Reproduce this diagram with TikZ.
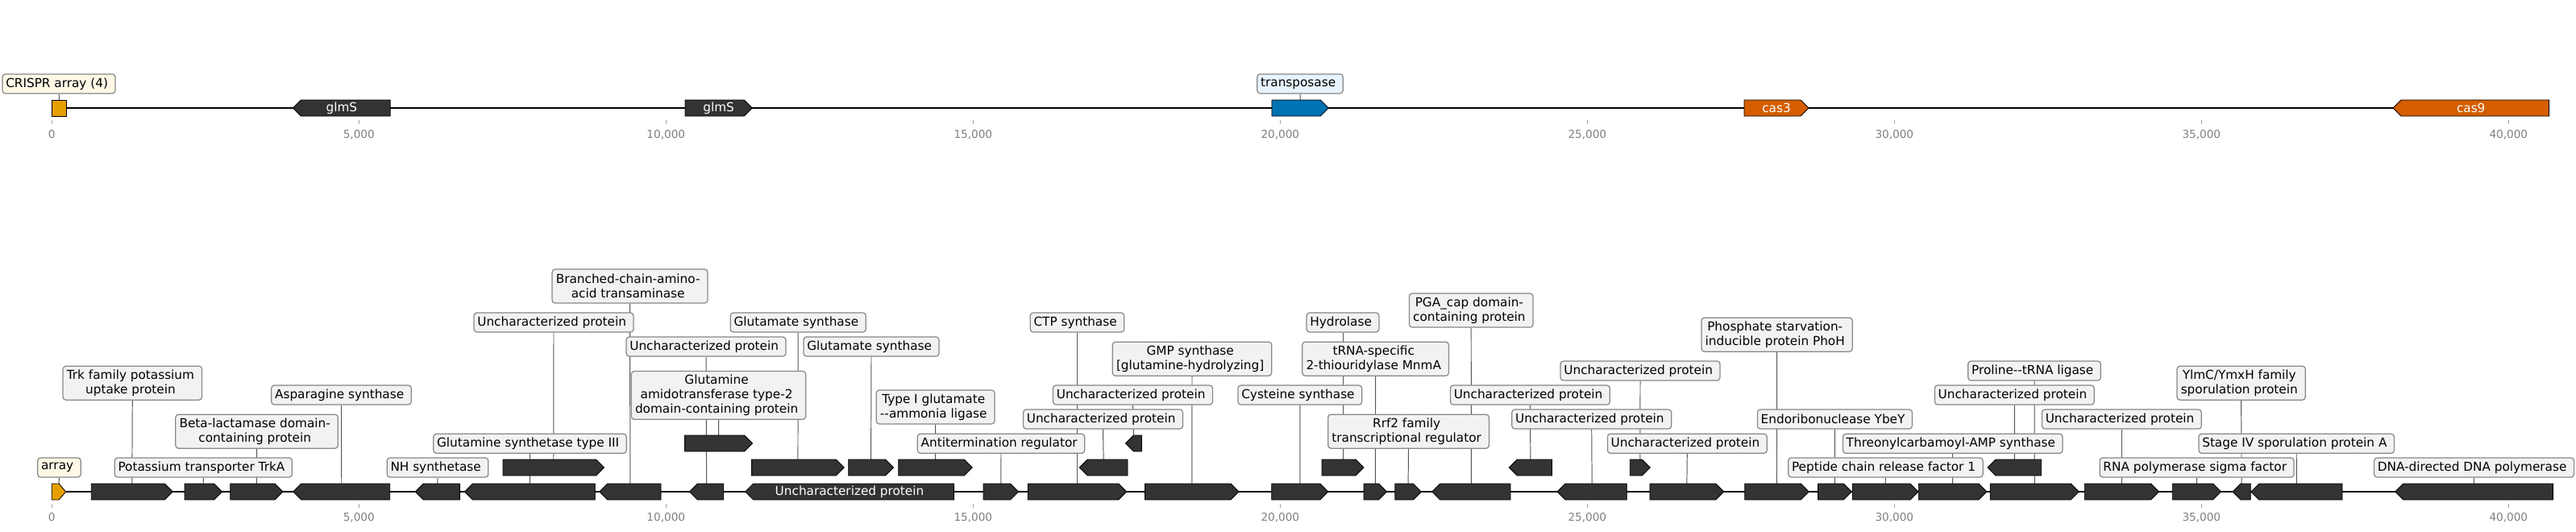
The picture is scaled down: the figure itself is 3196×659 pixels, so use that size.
\documentclass[tikz,border=0pt]{standalone}
\usepackage{fontspec}
\setmainfont{DejaVu Sans}
\definecolor{featdark}{HTML}{333333}
\definecolor{crisp}{HTML}{E69F00}
\definecolor{tpb}{HTML}{0072B2}
\definecolor{casc}{HTML}{D55E00}
\definecolor{lblfill}{HTML}{F2F2F2}
\definecolor{lblcream}{HTML}{FFF8E7}
\definecolor{lblblue}{HTML}{E8F4FD}
\definecolor{tickgray}{HTML}{808080}
\definecolor{lblborder}{HTML}{888888}
\definecolor{conncol}{HTML}{555555}
\pgfdeclarelayer{bg}
\pgfdeclarelayer{conn}
\pgfsetlayers{bg,conn,main}
\tikzset{
  feat/.style={draw=black, line width=0.6pt},
  base/.style={draw=black, line width=1.5pt},
  conn/.style={draw=conncol, line width=0.7pt},
  lbl/.style={draw=lblborder, fill=lblfill, rounded corners=2.6pt, line width=0.9pt,
    inner xsep=3.1pt, inner ysep=1pt, minimum height=17.3pt,
    font=\fontsize{11}{13}\selectfont, execute at end node={\hspace*{3.4pt}}},
  twol/.style={minimum height=30.2pt, align=center, execute at end node={}, inner xsep=3.4pt},
  threel/.style={minimum height=43pt, align=center, execute at end node={}, inner xsep=3.4pt},
  intext/.style={text=white, font=\fontsize{11}{13}\selectfont, inner sep=0pt},
  ticklbl/.style={text=tickgray, font=\fontsize{9.8}{11}\selectfont, inner sep=0pt},
  tickmark/.style={draw=tickgray!70, line width=0.6pt}
}
\newcommand{\fR}[5]{%
  \pgfmathsetmacro{\hl}{min(10,(#3-#2)/2)}%
  \filldraw[feat,fill=#5] (#2,#4-10) -- (#3-\hl,#4-10) -- (#3,#4) -- (#3-\hl,#4+10) -- (#2,#4+10) -- cycle;
  \coordinate (#1) at ({(#2+#3)/2},#4-10);}
\newcommand{\fL}[5]{%
  \pgfmathsetmacro{\hl}{min(10,(#3-#2)/2)}%
  \filldraw[feat,fill=#5] (#3,#4-10) -- (#2+\hl,#4-10) -- (#2,#4) -- (#2+\hl,#4+10) -- (#3,#4+10) -- cycle;
  \coordinate (#1) at ({(#2+#3)/2},#4-10);}
\begin{document}
\begin{tikzpicture}[x=0.72pt,y=-0.72pt]
\useasboundingbox (0,0) rectangle (3196,659);
\begin{pgfonlayer}{bg}
\fill[white] (0,0) rectangle (3196,659);
\draw[base] (64,134) -- (3163,134);
\draw[base] (64,610) -- (3166,610);
\end{pgfonlayer}
% ticks
\foreach \k/\t in {0/0,1/{5,000},2/{10,000},3/{15,000},4/{20,000},5/{25,000},6/{30,000},7/{35,000},8/{40,000}}{
  \draw[tickmark] (64.3+381*\k,149) -- (64.3+381*\k,154);
  \draw[tickmark] (64.3+381*\k,625) -- (64.3+381*\k,630);
  \node[ticklbl] (tt\k) at (64.3+381*\k,167) {\t};
  \node[ticklbl] (bt\k) at (64.3+381*\k,642) {\t};
}
% ---------- top panel ----------
\filldraw[feat,fill=crisp] (64.5,124) rectangle (82.8,144);
\coordinate (cr) at (73.6,124);
\fL{gla}{363.5}{484.2}{134}{featdark}
\fR{glb}{850}{933.3}{134}{featdark}
\fR{tp}{1577.9}{1648.2}{134}{tpb}
\fR{ca3}{2164}{2244}{134}{casc}
\fL{ca9}{2969}{3162.5}{134}{casc}
\node[intext] (tgla) at (423.9,134) {glmS};
\node[intext] (tglb) at (891.6,134) {glmS};
\node[intext] (tca3) at (2204,134) {cas3};
\node[intext] (tca9) at (3065.7,134) {cas9};
\node[lbl,fill=lblcream,execute at end node={}] (Lcr) at (73,103.9) {CRISPR array (4)};
\node[lbl,fill=lblblue,execute at end node={}] (Ltp) at (1613,103.9) {transposase};
% ---------- bottom panel features ----------
\fR{fa}{64.3}{81.7}{610}{crisp}
\fR{f1}{113.3}{214.3}{610}{featdark}
\fR{f2}{229}{275.5}{610}{featdark}
\fR{f3}{285.7}{351}{610}{featdark}
\fL{f4}{363.8}{483.7}{610}{featdark}
\fL{f5}{515.3}{570.4}{610}{featdark}
\fL{f6}{576.5}{738.3}{610}{featdark}
\fR{g1}{624}{749.5}{580}{featdark}
\fL{f7}{743.8}{820}{610}{featdark}
\fL{f8}{855.4}{897.8}{610}{featdark}
\fR{h1}{849.6}{933.5}{550}{featdark}
\fL{f9}{924.6}{1183.5}{610}{featdark}
\fR{gA}{932.6}{1047.3}{580}{featdark}
\fR{gB}{1052.7}{1108.5}{580}{featdark}
\fR{gC}{1114.7}{1206.3}{580}{featdark}
\fR{f10}{1220}{1263.6}{610}{featdark}
\fR{f11}{1275.2}{1397.8}{610}{featdark}
\fL{gD}{1339.3}{1399}{580}{featdark}
\fL{hE}{1396.4}{1416.5}{550}{featdark}
\fR{f12}{1420.5}{1537}{610}{featdark}
\fR{f13}{1577.7}{1647.8}{610}{featdark}
\fR{gF}{1640}{1692}{580}{featdark}
\fR{f14}{1692}{1720.5}{610}{featdark}
\fR{f15}{1730.8}{1763.4}{610}{featdark}
\fL{f16}{1776.8}{1874}{610}{featdark}
\fL{gG}{1872.3}{1925.4}{580}{featdark}
\fL{f17}{1932}{2018.3}{610}{featdark}
\fR{gH}{2022.3}{2047.3}{580}{featdark}
\fR{f18}{2046.9}{2138.8}{610}{featdark}
\fR{f19}{2164.7}{2244.2}{610}{featdark}
\fR{f20}{2255.4}{2297.3}{610}{featdark}
\fR{f21}{2298.2}{2380}{610}{featdark}
\fR{f22}{2380.3}{2465}{610}{featdark}
\fL{gI}{2466}{2532.7}{580}{featdark}
\fR{f23}{2469.2}{2579.3}{610}{featdark}
\fR{f24}{2586.3}{2678.5}{610}{featdark}
\fR{f25}{2695.3}{2755.4}{610}{featdark}
\fL{f26}{2770}{2792.3}{610}{featdark}
\fL{f27}{2792.8}{2906}{610}{featdark}
\fL{f28}{2971.7}{3167.3}{610}{featdark}
\node[intext] (tf9) at (1054,610) {Uncharacterized protein};
% ---------- bottom panel labels ----------
\node[lbl,fill=lblcream,execute at end node={}] (Larr) at (73.5,580) {array};
\node[lbl,twol] (Ltrk) at (164.3,475.2) {Trk family potassium\\uptake protein};
\node[lbl] (Ltrka) at (252.3,580) {Potassium transporter TrkA};
\node[lbl,twol] (Lbeta) at (318.6,535.2) {Beta-lactamase domain-\\containing protein};
\node[lbl] (Lasn) at (423.5,490) {Asparagine synthase};
\node[lbl] (Lnh) at (543,580) {NH synthetase};
\node[lbl] (Lgs3) at (657.5,550.3) {Glutamine synthetase type III};
\node[lbl] (Lup1) at (687,400) {Uncharacterized protein};
\node[lbl,twol] (Lbcat) at (781.5,355) {Branched-chain-amino-\\acid transaminase};
\node[lbl] (Lup2) at (876,430) {Uncharacterized protein};
\node[lbl,threel] (Lgat) at (891.5,490.4) {Glutamine\\amidotransferase type-2\\domain-containing protein};
\node[lbl] (Lglu1) at (990.2,400) {Glutamate synthase};
\node[lbl] (Lglu2) at (1081,430) {Glutamate synthase};
\node[lbl,twol] (Ltyp) at (1160.6,505) {Type I glutamate\\-{}-ammonia ligase};
\node[lbl] (Lanti) at (1242,550.3) {Antitermination regulator};
\node[lbl] (Lctp) at (1336.5,400) {CTP synthase};
\node[lbl] (Lup3) at (1368.5,520) {Uncharacterized protein};
\node[lbl] (Lup4) at (1405.5,490) {Uncharacterized protein};
\node[lbl,twol] (Lgmp) at (1479,445.2) {GMP synthase\\{[}glutamine-hydrolyzing{]}};
\node[lbl] (Lcys) at (1612.8,490) {Cysteine synthase};
\node[lbl] (Lhyd) at (1666,400) {Hydrolase};
\node[lbl,twol] (Ltrna) at (1706.6,445.2) {tRNA-specific\\2-thiouridylase MnmA};
\node[lbl,twol] (Lrrf) at (1747.5,535.2) {Rrf2 family\\transcriptional regulator};
\node[lbl,twol] (Lpga) at (1825.2,385) {PGA\_cap domain-\\containing protein};
\node[lbl] (Lup5) at (1898.4,490) {Uncharacterized protein};
\node[lbl] (Lup6) at (1974.7,520) {Uncharacterized protein};
\node[lbl] (Lup7) at (2035,460) {Uncharacterized protein};
\node[lbl] (Lup8) at (2093.3,550.3) {Uncharacterized protein};
\node[lbl,twol] (Lpho) at (2204.6,415.2) {Phosphate starvation-\\inducible protein PhoH};
\node[lbl] (Lybe) at (2276.4,520) {Endoribonuclease YbeY};
\node[lbl] (Lpcr) at (2339.4,580) {Peptide chain release factor 1};
\node[lbl] (Lthr) at (2422.7,550.3) {Threonylcarbamoyl-AMP synthase};
\node[lbl] (Lpro) at (2524,460) {Proline-{}-tRNA ligase};
\node[lbl] (Lup9) at (2499.3,490) {Uncharacterized protein};
\node[lbl] (Lup10) at (2632.4,520) {Uncharacterized protein};
\node[lbl] (Lrnap) at (2725.6,580) {RNA polymerase sigma factor};
\node[lbl,twol] (Lylm) at (2780.6,475.2) {YlmC/YmxH family\\sporulation protein};
\node[lbl] (Lstg) at (2849.2,550.3) {Stage IV sporulation protein A};
\node[lbl] (Ldna) at (3069.5,580) {DNA-directed DNA polymerase};
% ---------- connectors ----------
\begin{pgfonlayer}{conn}
\foreach \a/\b in {Lcr/cr, Ltp/tp, Larr/fa, Ltrk/f1, Ltrka/f2, Lbeta/f3, Lasn/f4, Lnh/f5,
  Lgs3/f6, Lup1/g1, Lbcat/f7, Lup2/f8, Lgat/h1, Lglu1/gA, Lglu2/gB, Ltyp/gC, Lanti/f10,
  Lctp/f11, Lup3/gD, Lup4/hE, Lgmp/f12, Lcys/f13, Lhyd/gF, Ltrna/f14, Lrrf/f15, Lpga/f16,
  Lup5/gG, Lup6/f17, Lup7/gH, Lup8/f18, Lpho/f19, Lybe/f20, Lpcr/f21, Lthr/f22, Lpro/f23,
  Lup9/gI, Lup10/f24, Lrnap/f25, Lylm/f26, Lstg/f27, Ldna/f28}
  \draw[conn] (\a.south) -- (\b);
\end{pgfonlayer}
\end{tikzpicture}
\end{document}
